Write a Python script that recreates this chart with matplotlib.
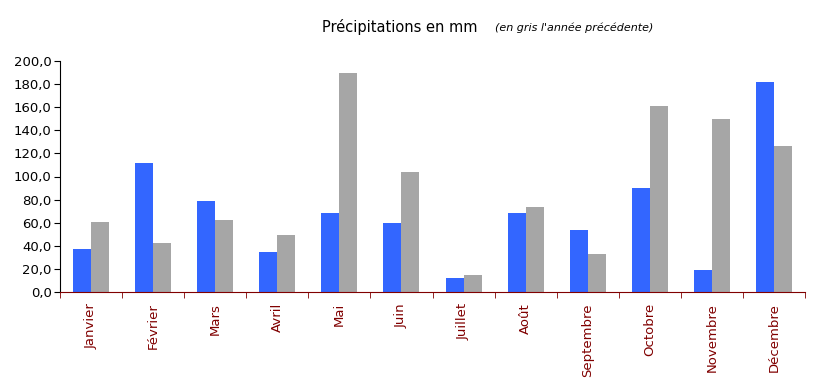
import numpy as np
import matplotlib.pyplot as plt
from matplotlib.ticker import FuncFormatter

# Données
mois = ["Janvier", "Février", "Mars", "Avril", "Mai", "Juin", "Juillet",
        "Août", "Septembre", "Octobre", "Novembre", "Décembre"]
annee = [37.0, 111.7, 78.8, 34.6, 68.0, 60.0, 12.0, 68.0, 53.7, 90.0, 19.0, 182.0]
annee_prec = [60.6, 42.4, 62.0, 49.0, 189.6, 104.0, 14.7, 73.6, 32.9, 161.0, 150.0, 126.0]

blue = "#3366ff"
grey = "#a6a6a6"
dark_red = "#800000"

fig = plt.figure(figsize=(8.23, 3.86), dpi=100)
ax = fig.add_axes([60/823, 94/386, 745/823, 231/386])

x = np.arange(len(mois))
w = 0.29
ax.bar(x - w/2, annee, w, color=blue)
ax.bar(x + w/2, annee_prec, w, color=grey)

ax.set_xlim(-0.5, len(mois) - 0.5)
ax.set_ylim(0, 200)
ax.set_yticks(np.arange(0, 201, 20))
ax.yaxis.set_major_formatter(FuncFormatter(lambda v, p: f"{v:.1f}".replace(".", ",")))
ax.tick_params(axis="y", length=4, labelsize=9.5, colors="black", pad=2)

ax.set_xticks(x)
ax.set_xticklabels(mois, rotation=90, color=dark_red, fontsize=9.5)
ax.tick_params(axis="x", which="major", length=0, pad=8)
ax.set_xticks(np.arange(-0.5, len(mois)), minor=True)
ax.tick_params(axis="x", which="minor", length=4, color=dark_red, direction="out")

for s in ["top", "right"]:
    ax.spines[s].set_visible(False)
ax.spines["bottom"].set_color(dark_red)
ax.spines["left"].set_color("black")

fig.text(0.391, 0.93, "Précipitations en mm", fontsize=10.5, ha="left", va="center")
fig.text(0.601, 0.928, "(en gris l'année précédente)", fontsize=8, style="italic",
         ha="left", va="center")

fig.savefig("out.png", dpi=100)
